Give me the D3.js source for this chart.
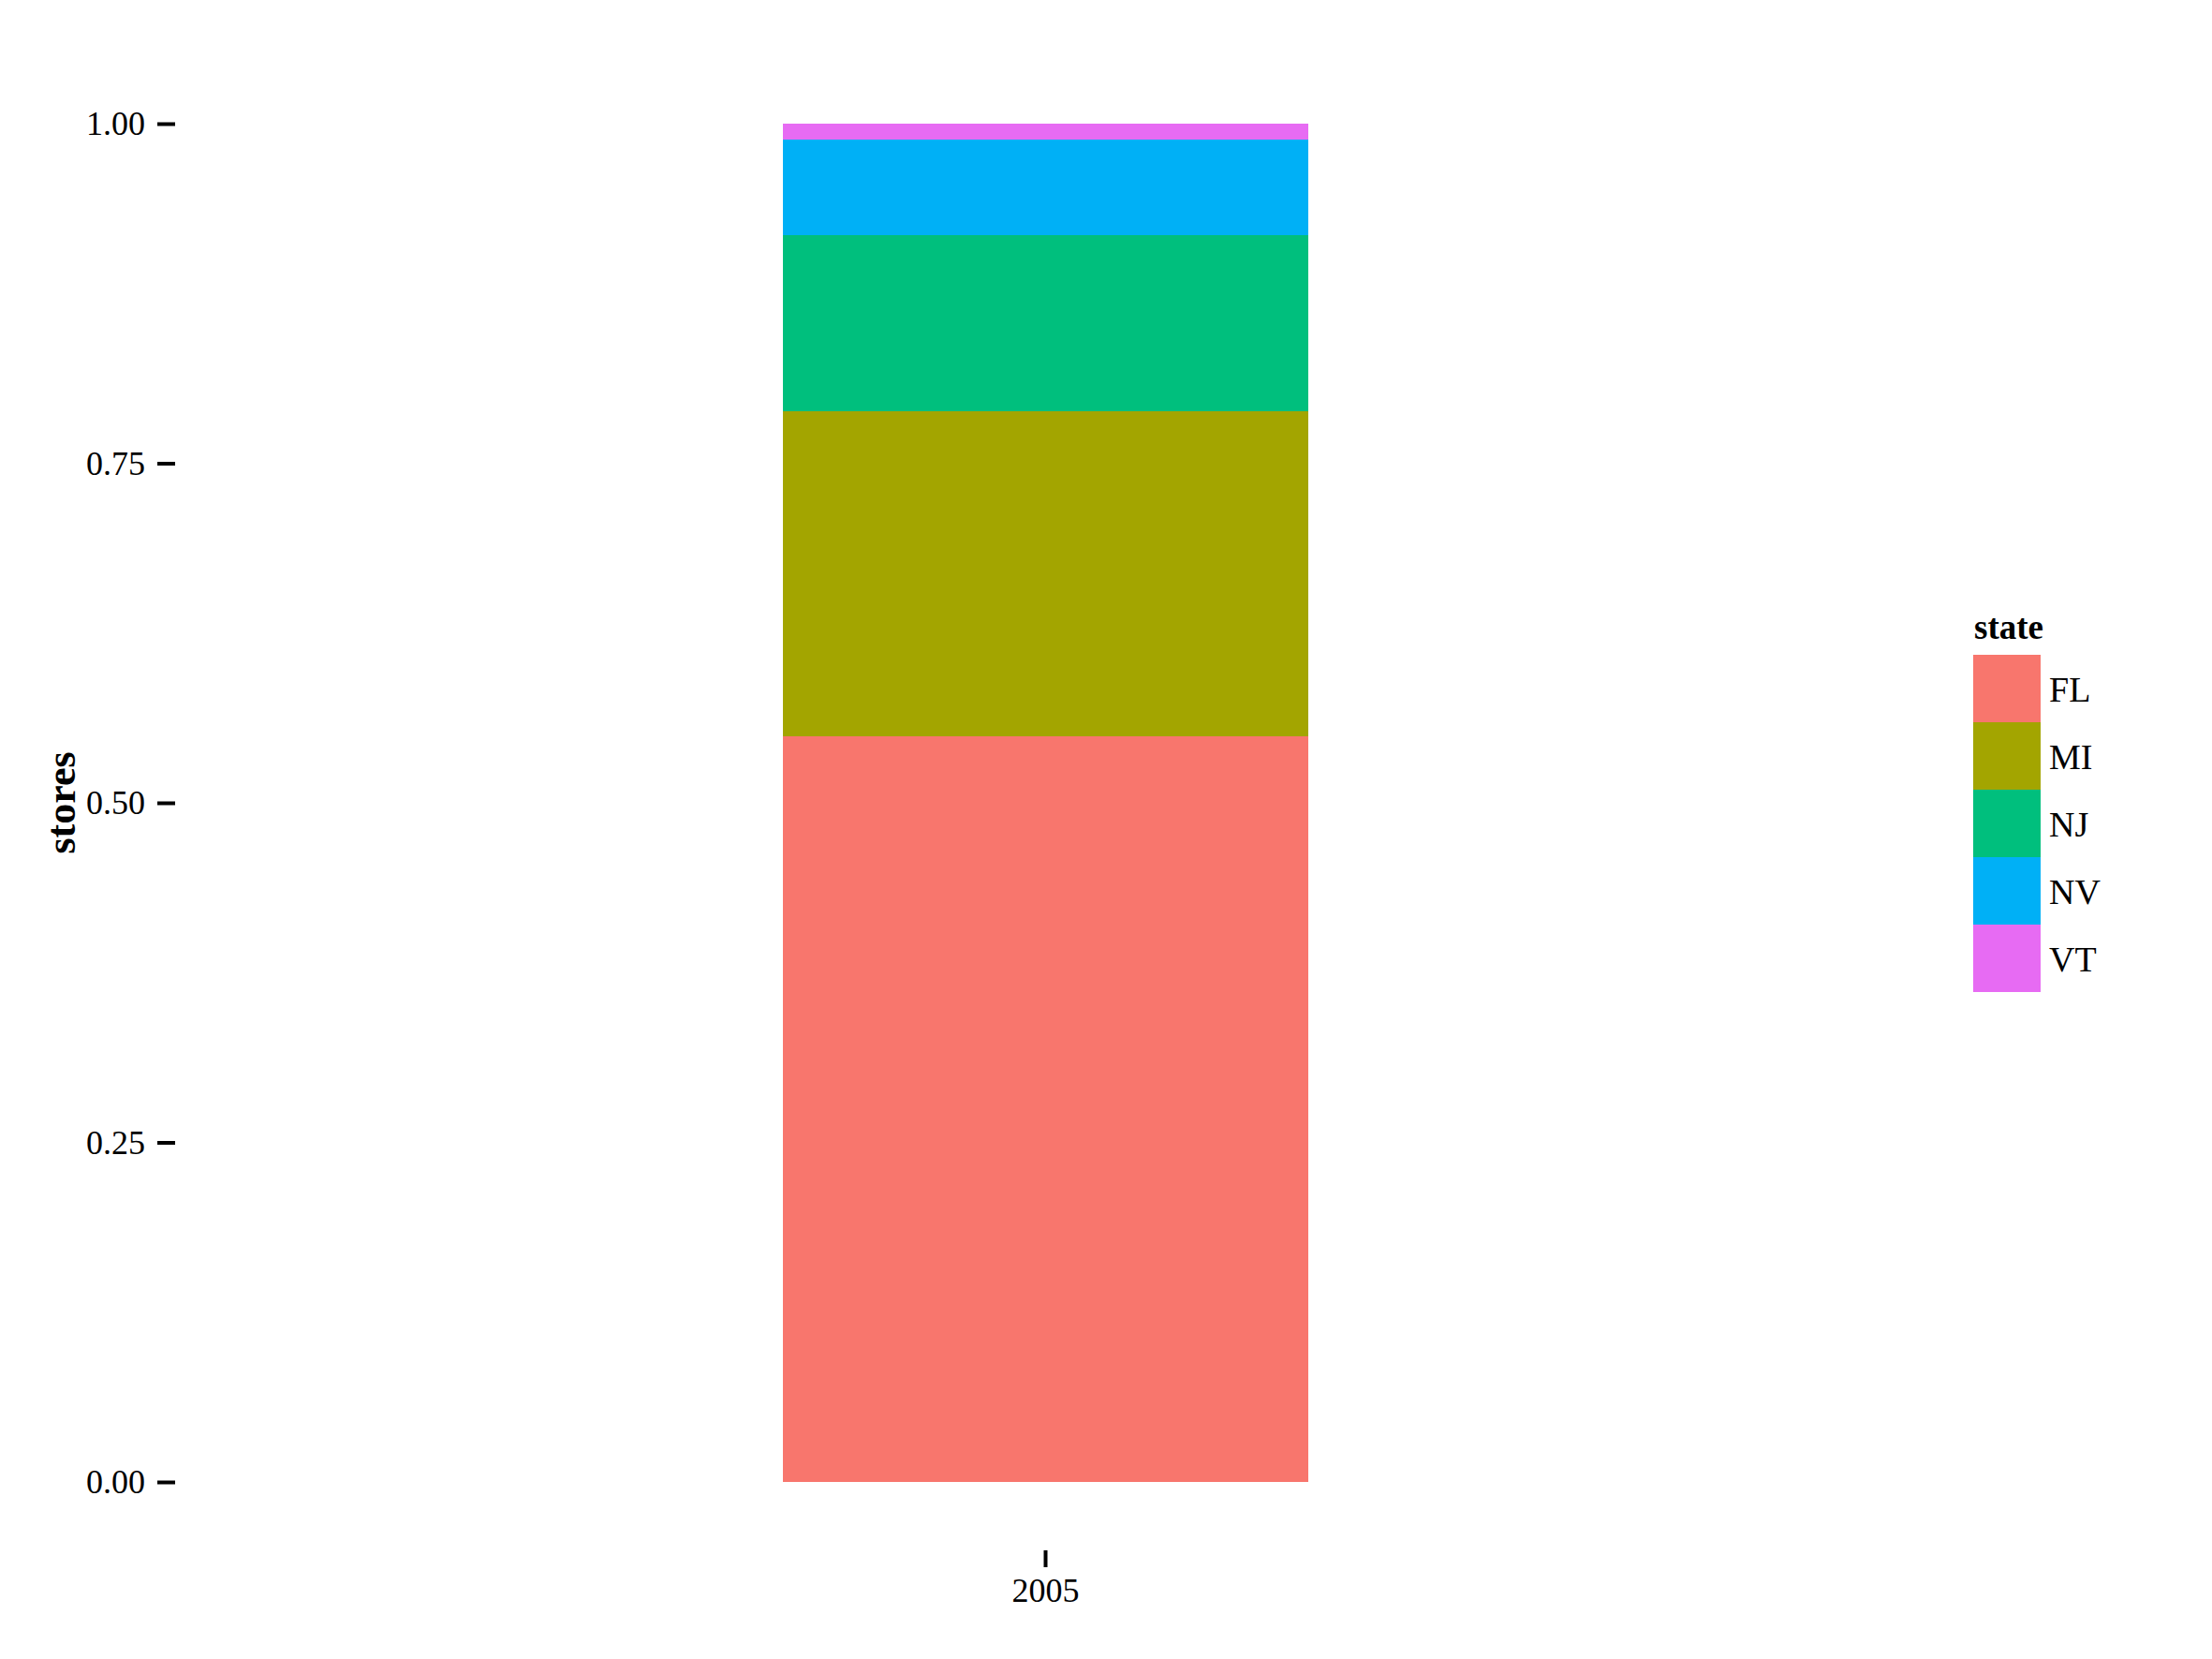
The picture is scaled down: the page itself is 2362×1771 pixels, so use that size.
<!DOCTYPE html>
<html>
<head>
<meta charset="utf-8">
<script src="https://cdn.jsdelivr.net/npm/d3@7"></script>
<style>
  html, body { margin: 0; padding: 0; background: #fff; }
  svg { display: block; }
  text { font-family: "Liberation Serif", "Times New Roman", serif; fill: #000; }
</style>
</head>
<body>
<svg id="chart" width="2362" height="1771"></svg>
<script>
// ---- data ----
const years = ["2005"];
const states = ["FL", "MI", "NJ", "NV", "VT"];
const shares = [0.549, 0.239, 0.130, 0.070, 0.012];
const yTicks = [0, 0.25, 0.5, 0.75, 1.0];
const yTickLabels = ["0.00", "0.25", "0.50", "0.75", "1.00"];
const colors = ["#F8766D", "#A3A500", "#00BF7D", "#00B0F6", "#E76BF3"];

const svg = d3.select("#chart");

const panel = { left: 187, right: 2046, top: 132, bottom: 1655 };

const y = d3.scaleLinear().domain([0, 1]).range([1582, 132]);
const x = d3.scaleBand().domain(years).range([panel.left, panel.right])
  .paddingInner(0).paddingOuter(1.159);
const color = d3.scaleOrdinal().domain(states).range(colors);

// stack
const rows = years.map(yr => {
  const o = { year: yr };
  states.forEach((s, i) => o[s] = shares[i]);
  return o;
});
const series = d3.stack().keys(states)(rows);

const g = svg.append("g");
g.selectAll("g.layer").data(series).join("g")
  .attr("class", "layer")
  .attr("fill", d => color(d.key))
  .selectAll("rect").data(d => d).join("rect")
  .attr("x", d => x(d.data.year))
  .attr("width", x.bandwidth())
  .attr("y", d => y(d[1]))
  .attr("height", d => y(d[0]) - y(d[1]))
  .attr("shape-rendering", "crispEdges");

// y axis
const yAxis = d3.axisLeft(y).tickValues(yTicks)
  .tickFormat((d, i) => yTickLabels[i]).tickSize(19).tickPadding(13);
const ya = svg.append("g").attr("transform", `translate(${panel.left},0)`).call(yAxis);
ya.select(".domain").remove();
ya.selectAll(".tick line").attr("stroke", "#000").attr("stroke-width", 4);
ya.selectAll(".tick text").attr("font-size", 36).attr("font-family", "Liberation Serif").attr("fill", "#000");

// x axis
const xAxis = d3.axisBottom(x).tickSize(18).tickPadding(11);
const xa = svg.append("g").attr("transform", `translate(0,${panel.bottom})`).call(xAxis);
xa.select(".domain").remove();
xa.selectAll(".tick line").attr("stroke", "#000").attr("stroke-width", 4);
xa.selectAll(".tick text").attr("font-size", 36).attr("font-family", "Liberation Serif").attr("fill", "#000");

// y axis title
svg.append("text")
  .attr("transform", `translate(80,${(y(0) + y(1)) / 2}) rotate(-90)`)
  .attr("text-anchor", "middle")
  .attr("font-size", 44)
  .attr("font-weight", "bold")
  .text("stores");

// legend
const leg = svg.append("g").attr("transform", "translate(2107,699)");
leg.append("text").attr("x", 1).attr("y", -17)
  .attr("font-size", 37).attr("font-weight", "bold").text("state");
const items = leg.selectAll("g.item").data(states).join("g")
  .attr("class", "item")
  .attr("transform", (d, i) => `translate(0,${i * 72})`);
items.append("rect").attr("width", 72).attr("height", 72)
  .attr("fill", d => color(d)).attr("shape-rendering", "crispEdges");
items.append("text").attr("x", 81).attr("y", 37).attr("dy", "0.35em")
  .attr("font-size", 38).text(d => d);
</script>
</body>
</html>
